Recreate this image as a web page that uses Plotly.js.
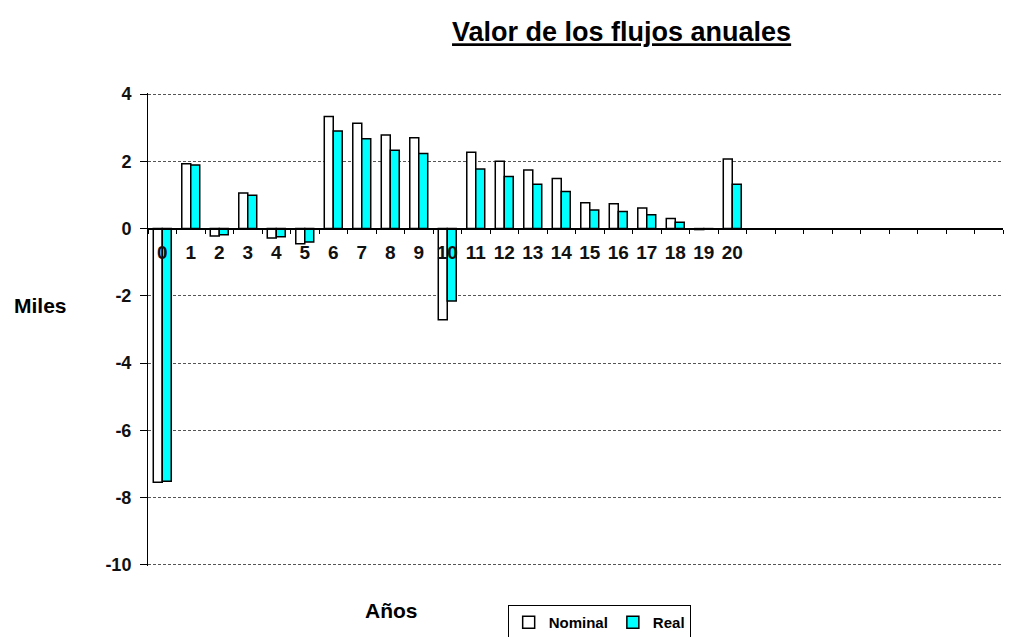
<!DOCTYPE html>
<html>
<head>
<meta charset="utf-8">
<script src="https://cdn.plot.ly/plotly-3.0.1.min.js"></script>
<style>html,body{margin:0;padding:0;background:#fff;}#chart{width:1019px;height:637px;}</style>
</head>
<body>
<div id="chart"></div>
<script>
// Categories: years 0..20, plus empty slots to the right
const years = ["0","1","2","3","4","5","6","7","8","9","10","11","12","13","14","15","16","17","18","19","20",
  "e21","e22","e23","e24","e25","e26","e27","e28","e29"];
const yearLabels = ["0","1","2","3","4","5","6","7","8","9","10","11","12","13","14","15","16","17","18","19","20",
  "","","","","","","","",""];
const nominal = [-7.54, 1.93, -0.22, 1.06, -0.28, -0.45, 3.33, 3.13, 2.78, 2.70, -2.71, 2.27, 2.00, 1.74, 1.49, 0.77, 0.74, 0.61, 0.30, -0.03, 2.07,
  null,null,null,null,null,null,null,null,null];
const real = [-7.51, 1.89, -0.18, 0.99, -0.24, -0.40, 2.90, 2.67, 2.33, 2.23, -2.15, 1.77, 1.55, 1.32, 1.10, 0.55, 0.51, 0.41, 0.19, -0.02, 1.32,
  null,null,null,null,null,null,null,null,null];
const yTicks = [-10, -8, -6, -4, -2, 0, 2, 4];
const yTickLabels = ["-10", "-8", "-6", "-4", "-2", "0", "2", "4"];

const F = "Arial, 'Liberation Sans', sans-serif";
const traces = [
  {type:'bar', name:'Nominal', x:years, y:nominal, marker:{color:'#ffffff', line:{color:'#000000', width:1.5}}},
  {type:'bar', name:'Real', x:years, y:real, marker:{color:'#00ffff', line:{color:'#000000', width:1.5}}}
];
const yMin = -10.03, yMax = 4.03;
const layout = {
  width:1019, height:637,
  margin:{l:148, r:16, t:93, b:71, autoexpand:false},
  paper_bgcolor:'#fff', plot_bgcolor:'#fff',
  barmode:'group', bargap:0.37, bargroupgap:0,
  showlegend:true,
  legend:{orientation:'h', xref:'container', yref:'container', x:0.588, xanchor:'center', y:(637-605)/637, yanchor:'top',
    bordercolor:'#000', borderwidth:1, font:{family:F, size:15, color:'#000', weight:'bold'},
    itemwidth:30, traceorder:'normal'},
  font:{family:F, color:'#000'},
  title:{text:'<b><u>Valor de los flujos anuales</u></b>', font:{family:F, size:27, color:'#000'},
    x:0.61, xanchor:'center', y:0.95, yanchor:'middle'},
  xaxis:{type:'category', categoryorder:'array', categoryarray:years,
    tickmode:'array', tickvals:years, ticktext:yearLabels, tickson:'boundaries',
    range:[-0.5, years.length-0.5], tickangle:0,
    anchor:'free', position:(0-yMin)/(yMax-yMin),
    showline:true, linecolor:'#000', linewidth:1.5,
    ticks:'outside', ticklen:4, tickcolor:'#000', tickwidth:1, ticklabelstandoff:6,
    showgrid:false, zeroline:false,
    tickfont:{family:F, size:19, color:'#111', weight:'bold'}},
  yaxis:{range:[yMin, yMax], tickmode:'array', tickvals:yTicks, ticktext:yTickLabels,
    showline:true, linecolor:'#000', linewidth:1,
    ticks:'outside', ticklen:7, tickcolor:'#000', ticklabelstandoff:5,
    showgrid:true, gridcolor:'#555', gridwidth:1, griddash:'3px,2px',
    zeroline:true, zerolinecolor:'#000', zerolinewidth:1.5,
    tickfont:{family:F, size:18, color:'#111', weight:'bold'}},
  annotations:[
    {text:'<b>Miles</b>', xref:'paper', yref:'paper', x:(12-148)/855, y:(-2.3-yMin)/(yMax-yMin), xanchor:'left', yanchor:'middle', showarrow:false, font:{family:F, size:21, color:'#000'}},
    {text:'<b>Años</b>', xref:'paper', yref:'paper', x:(391-148)/855, y:-0.095, xanchor:'center', yanchor:'middle', showarrow:false, font:{family:F, size:21, color:'#000'}}
  ]
};
Plotly.newPlot('chart', traces, layout, {staticPlot:true, displayModeBar:false});
</script>
</body>
</html>
